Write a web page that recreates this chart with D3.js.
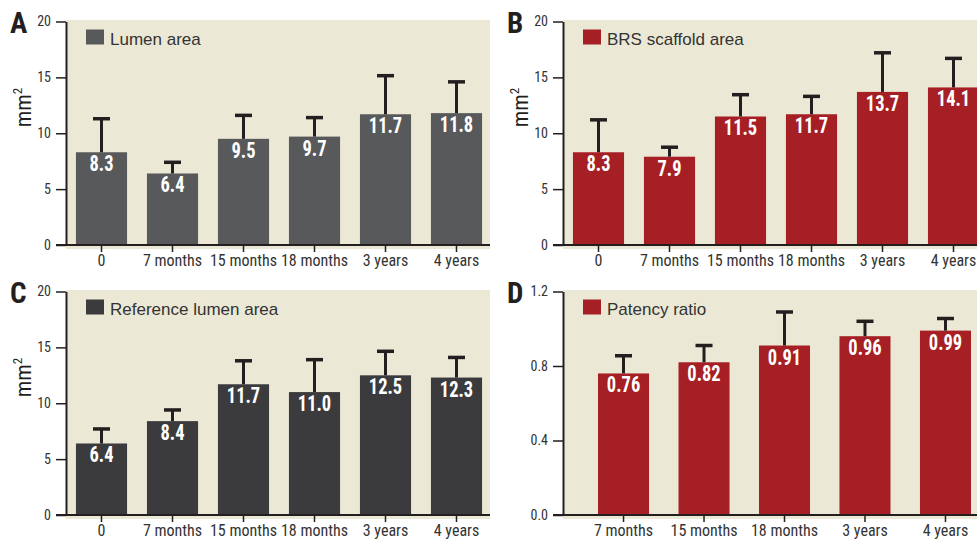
<!DOCTYPE html>
<html>
<head>
<meta charset="utf-8">
<script src="https://cdn.jsdelivr.net/npm/d3@7"></script>
<style>
  body { margin: 0; background: #fff; }
  text { font-family: 'Liberation Sans Narrow', 'Roboto Condensed', 'DejaVu Sans Condensed', sans-serif; }
</style>
</head>
<body>
<div id="chart"></div>
<script>
// categories
var visitsAll = ['0', '7 months', '15 months', '18 months', '3 years', '4 years']
var visitsFollowUp = ['7 months', '15 months', '18 months', '3 years', '4 years']

// series values (mean) and error (SD, upper bar only)
var lumenArea = [8.3, 6.4, 9.5, 9.7, 11.7, 11.8]
var lumenAreaSd = [3.0, 1.0, 2.1, 1.7, 3.45, 2.8]
var scaffoldArea = [8.3, 7.9, 11.5, 11.7, 13.7, 14.1]
var scaffoldAreaSd = [2.9, 0.85, 1.95, 1.6, 3.5, 2.6]
var refLumenArea = [6.4, 8.4, 11.7, 11.0, 12.5, 12.3]
var refLumenAreaSd = [1.3, 1.0, 2.1, 2.9, 2.15, 1.8]
var patency = [0.76, 0.82, 0.91, 0.96, 0.99]
var patencySd = [0.095, 0.09, 0.18, 0.08, 0.065]

// tick labels
var areaTicks = [0, 5, 10, 15, 20]
var ratioTicks = [0, 0.4, 0.8, 1.2]

var COLOR = {
  BG: '#ece8d6',
  GREY: '#58595b',
  DARK: '#3b3b3d',
  RED: '#a51f24',
  INK: '#231f20',
  TEXT: '#333333'
}

var svg = d3.select('#chart').append('svg')
  .attr('width', 977)
  .attr('height', 540)

function drawPanel (p) {
  var g = svg.append('g')
  var data = p.cats.map((c, i) => ({ cat: c, v: p.values[i], sd: p.sd[i] }))

  var x = d3.scaleBand()
    .domain(p.cats)
    .range(p.xRange)
    .paddingInner(p.padIn)
    .paddingOuter(p.padOut)

  var y = d3.scaleLinear()
    .domain([0, p.max])
    .range([p.bottom, p.top])

  var cx = d => x(d.cat) + x.bandwidth() / 2

  // background
  g.append('rect')
    .attr('x', p.axisX)
    .attr('y', p.top - 1.5)
    .attr('width', p.bgRight - p.axisX)
    .attr('height', p.bottom - p.top + 5.5)
    .attr('fill', COLOR.BG)

  // bars
  g.selectAll('rect.bar')
    .data(data)
    .enter()
    .append('rect')
    .attr('class', 'bar')
    .attr('x', d => x(d.cat))
    .attr('y', d => y(d.v))
    .attr('width', x.bandwidth())
    .attr('height', d => y(0) - y(d.v))
    .attr('fill', p.color)

  // error bars
  g.selectAll('line.err')
    .data(data)
    .enter()
    .append('line')
    .attr('class', 'err')
    .attr('x1', cx)
    .attr('x2', cx)
    .attr('y1', d => y(d.v))
    .attr('y2', d => y(d.v + d.sd))
    .attr('stroke', COLOR.INK)
    .attr('stroke-width', 3)

  g.selectAll('line.cap')
    .data(data)
    .enter()
    .append('line')
    .attr('class', 'cap')
    .attr('x1', d => cx(d) - 8.5)
    .attr('x2', d => cx(d) + 8.5)
    .attr('y1', d => y(d.v + d.sd))
    .attr('y2', d => y(d.v + d.sd))
    .attr('stroke', COLOR.INK)
    .attr('stroke-width', 3.5)

  // value labels (squeezed to look like a condensed bold face)
  g.selectAll('text.val')
    .data(data)
    .enter()
    .append('text')
    .attr('class', 'val')
    .attr('transform', d => 'translate(' + cx(d) + ',' + (y(d.v) + 19) + ') scale(0.84,1)')
    .attr('text-anchor', 'middle')
    .attr('fill', '#fff')
    .style('font-size', '22px')
    .style('font-weight', 'bold')
    .text(d => p.fmt(d.v))

  // y axis
  var yAxis = g.append('g')
    .attr('transform', 'translate(' + p.axisX + ',0)')
    .call(d3.axisLeft(y).tickValues(p.ticks).tickFormat(p.tickFmt)
      .tickSize(10).tickSizeOuter(0).tickPadding(5))
  yAxis.select('.domain').attr('stroke', COLOR.INK).attr('stroke-width', 2)
  yAxis.selectAll('.tick line').attr('stroke', COLOR.INK).attr('stroke-width', 1.5)
  yAxis.selectAll('.tick text')
    .attr('fill', COLOR.TEXT)
    .style('font-size', '14px')
    .style('font-family', null)

  // x axis
  var xAxis = g.append('g')
    .attr('transform', 'translate(0,' + p.bottom + ')')
    .call(d3.axisBottom(x).tickSize(7).tickSizeOuter(0).tickPadding(3))
  xAxis.select('.domain').remove()
  xAxis.append('line')
    .attr('x1', p.axisX - 10)
    .attr('x2', p.bgRight)
    .attr('stroke', COLOR.INK)
    .attr('stroke-width', 2)
  xAxis.selectAll('.tick line').attr('stroke', COLOR.INK).attr('stroke-width', 1.5)
  xAxis.selectAll('.tick text')
    .attr('fill', COLOR.TEXT)
    .style('font-size', '16px')
    .style('font-family', null)

  // panel letter
  g.append('text')
    .attr('x', p.axisX - 56)
    .attr('y', p.top + 11)
    .attr('fill', COLOR.INK)
    .style('font-size', '29px')
    .style('font-weight', 'bold')
    .text(p.letter)

  // unit label
  if (p.unit) {
    var ut = g.append('text')
      .attr('transform', 'translate(' + (p.axisX - 35) + ',' + (p.top + 86) + ') rotate(-90)')
      .attr('text-anchor', 'middle')
      .attr('fill', COLOR.INK)
      .style('font-size', '22px')
    ut.append('tspan').text('mm')
    ut.append('tspan').attr('dy', -9).style('font-size', '13px').text('2')
  }

  // legend
  g.append('rect')
    .attr('x', p.axisX + 20)
    .attr('y', p.top + 8)
    .attr('width', 18)
    .attr('height', 15)
    .attr('fill', p.color)
  g.append('text')
    .attr('x', p.axisX + 44)
    .attr('y', p.top + 23.5)
    .attr('fill', COLOR.TEXT)
    .style('font-family', "'Liberation Sans', Arial, sans-serif")
    .style('font-size', '17px')
    .text(p.legend)
}

var areaFmt = d => d.toFixed(1)

drawPanel({
  letter: 'A', legend: 'Lumen area', unit: true,
  cats: visitsAll, values: lumenArea, sd: lumenAreaSd, color: COLOR.GREY,
  axisX: 66, bgRight: 490, xRange: [66, 492], padIn: 0.28, padOut: 0.14,
  top: 21.5, bottom: 245, max: 20, ticks: areaTicks, tickFmt: d3.format('d'), fmt: areaFmt
})

drawPanel({
  letter: 'B', legend: 'BRS scaffold area', unit: true,
  cats: visitsAll, values: scaffoldArea, sd: scaffoldAreaSd, color: COLOR.RED,
  axisX: 563, bgRight: 977, xRange: [563, 989], padIn: 0.28, padOut: 0.14,
  top: 21.5, bottom: 245, max: 20, ticks: areaTicks, tickFmt: d3.format('d'), fmt: areaFmt
})

drawPanel({
  letter: 'C', legend: 'Reference lumen area', unit: true,
  cats: visitsAll, values: refLumenArea, sd: refLumenAreaSd, color: COLOR.DARK,
  axisX: 66, bgRight: 490, xRange: [66, 492], padIn: 0.28, padOut: 0.14,
  top: 291.5, bottom: 515, max: 20, ticks: areaTicks, tickFmt: d3.format('d'), fmt: areaFmt
})

drawPanel({
  letter: 'D', legend: 'Patency ratio', unit: false,
  cats: visitsFollowUp, values: patency, sd: patencySd, color: COLOR.RED,
  axisX: 563, bgRight: 977, xRange: [563, 1006], padIn: 0.366, padOut: 0.435,
  top: 291.5, bottom: 515, max: 1.2, ticks: ratioTicks, tickFmt: d3.format('.1f'), fmt: d3.format('.2f')
})
</script>
</body>
</html>
